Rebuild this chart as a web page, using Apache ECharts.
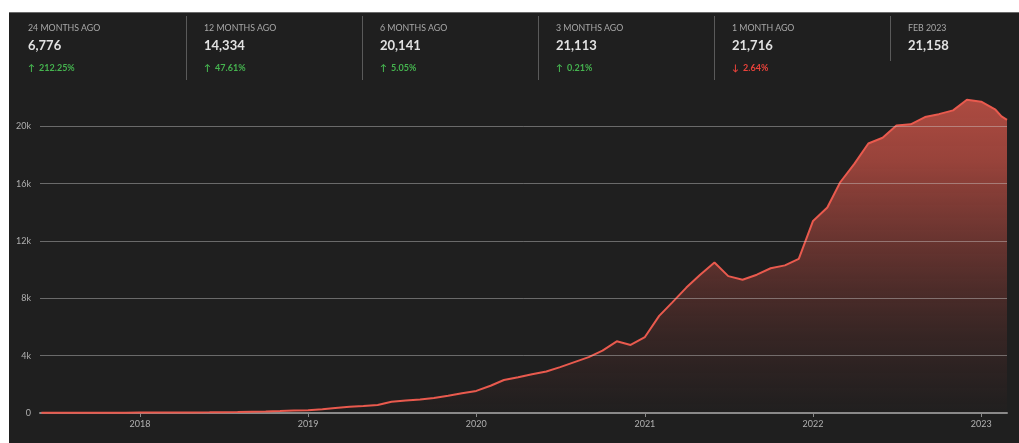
<!DOCTYPE html>
<html>
<head>
<meta charset="utf-8">
<script src="https://cdn.jsdelivr.net/npm/echarts@6/dist/echarts.min.js"></script>
<style>
  html, body { margin: 0; padding: 0; width: 1019px; height: 443px; background: #ffffff; overflow: hidden; font-family: Lato, "Noto Sans", sans-serif; }
  #panel { position: absolute; left: 9px; top: 12px; right: 0; bottom: 0; background: #1f1f1f; border-top: 1px solid #6a6a6a; box-sizing: border-box; }
  #chart { position: absolute; left: 0; top: 0; width: 1019px; height: 443px; }
  .stat { position: absolute; top: 12px; }
  .stat .lbl { position: absolute; left: 0; top: 10px; font-size: 8.8px; color: #a8a8a8; white-space: nowrap; }
  .stat .val { position: absolute; left: 0; top: 25px; font-size: 13px; font-weight: 700; color: #e2e2e2; white-space: nowrap; }
  .stat .chg { position: absolute; left: 0; top: 50px; font-size: 9px; font-weight: 700; white-space: nowrap; }
  .divider { position: absolute; top: 16px; width: 1px; background: #5a5a5a; }
</style>
</head>
<body>
<div id="panel"></div>
<div id="chart"></div>
<div id="stats"></div>
<script>
// Summary cards across the top
const statLabels = ['24 MONTHS AGO', '12 MONTHS AGO', '6 MONTHS AGO', '3 MONTHS AGO', '1 MONTH AGO', 'FEB 2023'];
const statValues = [6776, 14334, 20141, 21113, 21716, 21158];
const statChanges = [212.25, 47.61, 5.05, 0.21, -2.64, null];

// Monthly series (first of each month), plus the late-February readings
const dates = [
  '2017-06-01','2017-07-01','2017-08-01','2017-09-01','2017-10-01','2017-11-01','2017-12-01',
  '2018-01-01','2018-02-01','2018-03-01','2018-04-01','2018-05-01','2018-06-01',
  '2018-07-01','2018-08-01','2018-09-01','2018-10-01','2018-11-01','2018-12-01',
  '2019-01-01','2019-02-01','2019-03-01','2019-04-01','2019-05-01','2019-06-01',
  '2019-07-01','2019-08-01','2019-09-01','2019-10-01','2019-11-01','2019-12-01',
  '2020-01-01','2020-02-01','2020-03-01','2020-04-01','2020-05-01','2020-06-01',
  '2020-07-01','2020-08-01','2020-09-01','2020-10-01','2020-11-01','2020-12-01',
  '2021-01-01','2021-02-01','2021-03-01','2021-04-01','2021-05-01','2021-06-01',
  '2021-07-01','2021-08-01','2021-09-01','2021-10-01','2021-11-01','2021-12-01',
  '2022-01-01','2022-02-01','2022-03-01','2022-04-01','2022-05-01','2022-06-01',
  '2022-07-01','2022-08-01','2022-09-01','2022-10-01','2022-11-01','2022-12-01',
  '2023-01-01','2023-02-01','2023-02-14','2023-02-26'
];
const values = [
  10, 12, 15, 18, 20, 22, 25,
  28, 30, 32, 35, 40, 45,
  55, 70, 90, 110, 140, 170,
  200, 270, 350, 430, 480, 560,
  780, 870, 950, 1050, 1210, 1380,
  1540, 1900, 2300, 2500, 2700, 2900,
  3200, 3550, 3900, 4350, 5000, 4750,
  5300, 6776, 7700, 8750, 9650, 10500,
  9550, 9300, 9650, 10100, 10300, 10750,
  13400, 14334, 16100, 17400, 18800, 19200,
  20050, 20141, 20650, 20850, 21113, 21850,
  21716, 21158, 20700, 20450
];

const yearTicks = ['2018-01-01', '2019-01-01', '2020-01-01', '2021-01-01', '2022-01-01', '2023-01-01'];

// Build the header cards
const statsEl = document.getElementById('stats');
const cellWidth = 176;
statLabels.forEach((label, i) => {
  const cell = document.createElement('div');
  cell.className = 'stat';
  cell.style.left = (28 + cellWidth * i) + 'px';
  let html = '<div class="lbl">' + label + '</div>' +
             '<div class="val">' + statValues[i].toLocaleString('en-US') + '</div>';
  const c = statChanges[i];
  if (c !== null) {
    const up = c >= 0;
    html += '<div class="chg" style="color:' + (up ? '#45b34f' : '#e8423a') + '">' +
            (up ? '\u2191' : '\u2193') + '\u00a0 ' + Math.abs(c).toFixed(2) + '%</div>';
  }
  cell.innerHTML = html;
  statsEl.appendChild(cell);
  if (i > 0) {
    const d = document.createElement('div');
    d.className = 'divider';
    d.style.left = (10 + cellWidth * i) + 'px';
    d.style.height = (statChanges[i] === null ? 45 : 64) + 'px';
    statsEl.appendChild(d);
  }
});

const chart = echarts.init(document.getElementById('chart'), null, { renderer: 'canvas' });
const toTime = s => { const p = s.split('-').map(Number); return new Date(p[0], p[1] - 1, p[2]).getTime(); };
const seriesData = dates.map((d, i) => [toTime(d), values[i]]);
const tickTimes = yearTicks.map(toTime);

chart.setOption({
  backgroundColor: 'transparent',
  animation: false,
  grid: { left: 40, right: 12, top: 69, bottom: 30 },
  xAxis: {
    // timestamps on a plain value scale, ticks placed at each new year
    type: 'value',
    min: toTime('2017-05-29'),
    max: toTime('2023-02-26'),
    axisLine: { show: true, lineStyle: { color: '#8a8a8a', width: 2 } },
    axisTick: { show: true, customValues: tickTimes, length: 4, lineStyle: { color: '#8a8a8a', width: 1 } },
    axisLabel: {
      customValues: tickTimes,
      formatter: v => String(new Date(v).getFullYear()),
      color: '#b0b0b0', fontSize: 9, margin: 7, fontFamily: 'Lato, sans-serif'
    },
    splitLine: { show: false }
  },
  yAxis: {
    type: 'value',
    min: 0, max: 24000, interval: 4000,
    z: 3,
    axisLine: { show: false },
    axisTick: { show: false },
    axisLabel: {
      showMaxLabel: false,
      formatter: v => v === 0 ? '0' : (v / 1000) + 'k',
      color: '#b0b0b0', fontSize: 9, margin: 9, fontFamily: 'Lato, sans-serif'
    },
    splitLine: { show: true, showMaxLine: false, showMinLine: false, lineStyle: { color: 'rgba(210,210,210,0.42)', width: 1 } }
  },
  series: [{
    type: 'line',
    data: seriesData,
    showSymbol: false,
    smooth: false,
    lineStyle: { color: '#e95a4e', width: 2 },
    itemStyle: { color: '#e95a4e' },
    areaStyle: {
      color: new echarts.graphic.LinearGradient(0, 0, 0, 1, [
        { offset: 0, color: 'rgba(234,94,80,1)' },
        { offset: 0.2, color: 'rgba(222,88,75,0.9)' },
        { offset: 0.5, color: 'rgba(200,80,70,0.55)' },
        { offset: 0.75, color: 'rgba(170,70,62,0.25)' },
        { offset: 1, color: 'rgba(150,60,55,0.02)' }
      ])
    },
    z: 2
  }]
});
</script>
</body>
</html>
